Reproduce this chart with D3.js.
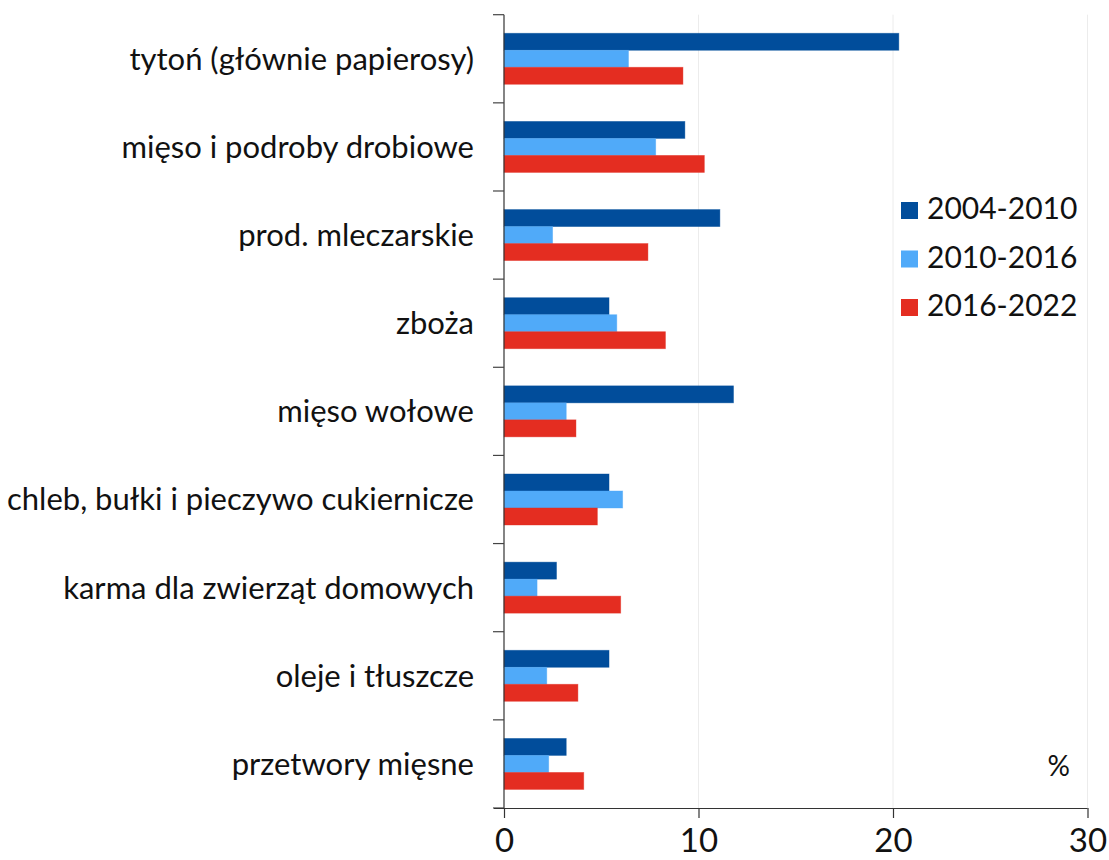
<!DOCTYPE html>
<html><head><meta charset="utf-8">
<script src="https://cdn.jsdelivr.net/npm/d3@7"></script>
<style>body{margin:0;background:#fff;} svg{display:block;} text{font-family:Lato,"Noto Sans",sans-serif;fill:#111;}</style>
</head><body><svg id="c" width="1109" height="860"></svg>
<script>
const categories = ["tytoń (głównie papierosy)","mięso i podroby drobiowe","prod. mleczarskie","zboża","mięso wołowe","chleb, bułki i pieczywo cukiernicze","karma dla zwierząt domowych","oleje i tłuszcze","przetwory mięsne"];
const seriesNames = ["2004-2010","2010-2016","2016-2022"];
const s2004_2010 = [20.3, 9.3, 11.1, 5.4, 11.8, 5.4, 2.7, 5.4, 3.2];
const s2010_2016 = [6.4, 7.8, 2.5, 5.8, 3.2, 6.1, 1.7, 2.2, 2.3];
const s2016_2022 = [9.2, 10.3, 7.4, 8.3, 3.7, 4.8, 6.0, 3.8, 4.1];
const xTicks = [0, 10, 20, 30];
const colors = ["#014D9B", "#50AAF9", "#E42D21"];
const unitLabel = "%";

const series = [s2004_2010, s2010_2016, s2016_2022];
const svg = d3.select("#c");
const x = d3.scaleLinear().domain([0, 30]).range([504, 1087.5]);
const y = d3.scaleBand().domain(categories).range([14.7, 808]);
const inner = d3.scaleBand().domain(seriesNames).range([0, 51]);
const off = (y.step() - 51) / 2;

// gridlines
svg.append("g").selectAll("line").data(xTicks.filter(d => d > 0)).join("line")
  .attr("x1", d => x(d)).attr("x2", d => x(d)).attr("y1", 14.7).attr("y2", 808)
  .attr("stroke", "#ececec").attr("stroke-width", 1);

// bars
const g = svg.append("g");
series.forEach((vals, si) => {
  g.selectAll(".b" + si).data(vals).join("rect")
    .attr("x", x(0))
    .attr("y", (d, i) => y(categories[i]) + off + inner(seriesNames[si]))
    .attr("width", d => x(d) - x(0))
    .attr("height", inner.bandwidth())
    .attr("fill", colors[si])
    .attr("stroke", colors[si]).attr("stroke-opacity", 0.5).attr("stroke-width", 0.8);
});

// y axis
const yAxis = svg.append("g").attr("transform", `translate(${x(0)},0)`);
yAxis.append("line").attr("x1", 0).attr("x2", 0).attr("y1", 14.7).attr("y2", 808).attr("stroke", "#333").attr("stroke-width", 1.2);
const tickYs = categories.map(c => y(c)).concat([y.range()[1]]);
yAxis.selectAll(".t").data(tickYs).join("line")
  .attr("x1", -11).attr("x2", 0).attr("y1", d => d).attr("y2", d => d)
  .attr("stroke", "#444").attr("stroke-width", 1.2);
yAxis.selectAll("text").data(categories).join("text")
  .attr("x", -30).attr("y", c => y(c) + y.bandwidth() / 2 + 11)
  .attr("text-anchor", "end").attr("font-size", 31).text(c => c);

// x axis
const xAxis = svg.append("g").attr("transform", "translate(0,808)")
  .call(d3.axisBottom(x).tickValues(xTicks).tickSize(10).tickSizeOuter(0).tickFormat(d3.format("d")));
xAxis.select(".domain").attr("stroke", "#333").attr("stroke-width", 1.2).attr("d", `M494,0.5H${x(30)}`);
xAxis.selectAll(".tick line").attr("stroke", "#333").attr("stroke-width", 1.2);
xAxis.selectAll(".tick text").attr("font-size", 33).attr("dy", 0).attr("y", 44).attr("fill", "#111")
  .style("font-family", "Lato, 'Noto Sans', sans-serif");

// legend
const lg = svg.append("g");
seriesNames.forEach((n, i) => {
  const yy = 202 + i * 48.5;
  lg.append("rect").attr("x", 901).attr("y", yy).attr("width", 17).attr("height", 17).attr("fill", colors[i]);
  lg.append("text").attr("x", 927).attr("y", yy + 17).attr("font-size", 30).text(n);
});

svg.append("text").attr("x", 1070).attr("y", 776).attr("text-anchor", "end").attr("font-size", 28).text(unitLabel);
</script></body></html>
